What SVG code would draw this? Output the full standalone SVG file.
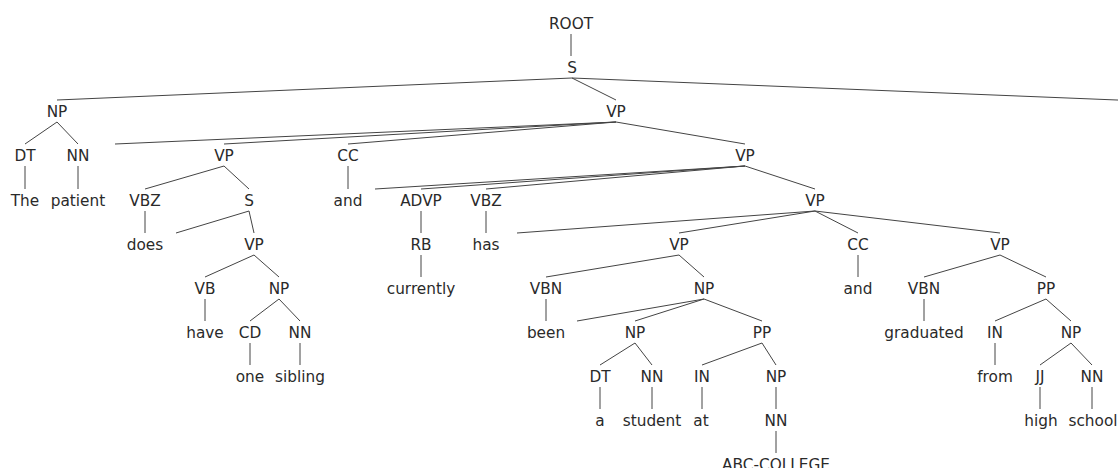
<svg xmlns="http://www.w3.org/2000/svg" width="1118" height="468" viewBox="0 0 1118 468">
  <style>
    text { font-family: "DejaVu Sans", "Liberation Sans", sans-serif; font-size: 15.3px; fill: #2a2a2a; text-anchor: middle; }
    .edges line { stroke: #444; stroke-width: 1; fill: none; }
  </style>
  <rect width="1118" height="468" fill="#fff"/>

  <!-- tree edges -->
  <g id="edges" class="edges">
    <line x1="571" y1="34" x2="571" y2="56"/>
    <line x1="572" y1="78" x2="57" y2="100"/>
    <line x1="572" y1="78" x2="616" y2="100"/>
    <line x1="572" y1="78" x2="1122" y2="100.2"/>
    <line x1="57" y1="122" x2="25" y2="144"/>
    <line x1="57" y1="122" x2="78" y2="144"/>
    <line x1="25" y1="166" x2="25" y2="189"/>
    <line x1="78" y1="166" x2="78" y2="189"/>
    <line x1="616" y1="122" x2="115" y2="144"/>
    <line x1="616" y1="122" x2="224" y2="144"/>
    <line x1="616" y1="122" x2="348" y2="144"/>
    <line x1="616" y1="122" x2="745" y2="144"/>
    <line x1="224" y1="166" x2="145" y2="189"/>
    <line x1="224" y1="166" x2="249" y2="189"/>
    <line x1="348" y1="166" x2="348" y2="189"/>
    <line x1="745" y1="166" x2="375" y2="189"/>
    <line x1="745" y1="166" x2="421" y2="189"/>
    <line x1="745" y1="166" x2="486" y2="189"/>
    <line x1="745" y1="166" x2="815" y2="189"/>
    <line x1="145" y1="211" x2="145" y2="233"/>
    <line x1="249" y1="211" x2="176" y2="233"/>
    <line x1="249" y1="211" x2="254" y2="233"/>
    <line x1="421" y1="211" x2="421" y2="233"/>
    <line x1="486" y1="211" x2="486" y2="233"/>
    <line x1="815" y1="211" x2="517" y2="233"/>
    <line x1="815" y1="211" x2="679" y2="233"/>
    <line x1="815" y1="211" x2="858" y2="233"/>
    <line x1="815" y1="211" x2="1000" y2="233"/>
    <line x1="254" y1="255" x2="205" y2="277"/>
    <line x1="254" y1="255" x2="279" y2="277"/>
    <line x1="421" y1="255" x2="421" y2="277"/>
    <line x1="679" y1="255" x2="546" y2="277"/>
    <line x1="679" y1="255" x2="704" y2="277"/>
    <line x1="858" y1="255" x2="858" y2="277"/>
    <line x1="1000" y1="255" x2="924" y2="277"/>
    <line x1="1000" y1="255" x2="1046" y2="277"/>
    <line x1="205" y1="299" x2="205" y2="321"/>
    <line x1="279" y1="299" x2="250" y2="321"/>
    <line x1="279" y1="299" x2="300" y2="321"/>
    <line x1="546" y1="299" x2="546" y2="321"/>
    <line x1="704" y1="299" x2="577" y2="321"/>
    <line x1="704" y1="299" x2="635" y2="321"/>
    <line x1="704" y1="299" x2="762" y2="321"/>
    <line x1="924" y1="299" x2="924" y2="321"/>
    <line x1="1046" y1="299" x2="995" y2="321"/>
    <line x1="1046" y1="299" x2="1071" y2="321"/>
    <line x1="250" y1="343" x2="250" y2="365"/>
    <line x1="300" y1="343" x2="300" y2="365"/>
    <line x1="635" y1="343" x2="600" y2="365"/>
    <line x1="635" y1="343" x2="652" y2="365"/>
    <line x1="762" y1="343" x2="702" y2="365"/>
    <line x1="762" y1="343" x2="776" y2="365"/>
    <line x1="995" y1="343" x2="995" y2="365"/>
    <line x1="1071" y1="343" x2="1040" y2="365"/>
    <line x1="1071" y1="343" x2="1092" y2="365"/>
    <line x1="600" y1="387" x2="600" y2="409"/>
    <line x1="652" y1="387" x2="652" y2="409"/>
    <line x1="702" y1="387" x2="702" y2="409"/>
    <line x1="776" y1="387" x2="776" y2="409"/>
    <line x1="1040" y1="387" x2="1040" y2="409"/>
    <line x1="1092" y1="387" x2="1092" y2="409"/>
    <line x1="776" y1="431" x2="776" y2="453"/>
  </g>

  <!-- nodes -->
  <g id="n-root"><text x="571" y="29">ROOT</text></g>
  <g id="n-s"><text x="572" y="73">S</text></g>
  <g id="n-np1"><text x="57" y="117">NP</text></g>
  <g id="n-vp1"><text x="616" y="117">VP</text></g>
  <g id="n-dt1"><text x="25" y="161">DT</text></g>
  <g id="n-nn1"><text x="78" y="161">NN</text></g>
  <g id="n-vp2"><text x="224" y="161">VP</text></g>
  <g id="n-cc1"><text x="348" y="161">CC</text></g>
  <g id="n-vp3"><text x="745" y="161">VP</text></g>
  <g id="w-the"><text x="25" y="206">The</text></g>
  <g id="w-patient"><text x="78" y="206">patient</text></g>
  <g id="n-vbz1"><text x="145" y="206">VBZ</text></g>
  <g id="n-s2"><text x="249" y="206">S</text></g>
  <g id="w-and1"><text x="348" y="206">and</text></g>
  <g id="n-advp"><text x="421" y="206">ADVP</text></g>
  <g id="n-vbz2"><text x="486" y="206">VBZ</text></g>
  <g id="n-vp4"><text x="815" y="206">VP</text></g>
  <g id="w-does"><text x="145" y="250">does</text></g>
  <g id="n-vp5"><text x="254" y="250">VP</text></g>
  <g id="n-rb"><text x="421" y="250">RB</text></g>
  <g id="w-has"><text x="486" y="250">has</text></g>
  <g id="n-vp6"><text x="679" y="250">VP</text></g>
  <g id="n-cc2"><text x="858" y="250">CC</text></g>
  <g id="n-vp7"><text x="1000" y="250">VP</text></g>
  <g id="n-vb"><text x="205" y="294">VB</text></g>
  <g id="n-np2"><text x="279" y="294">NP</text></g>
  <g id="w-currently"><text x="421" y="294">currently</text></g>
  <g id="n-vbn1"><text x="546" y="294">VBN</text></g>
  <g id="n-np3"><text x="704" y="294">NP</text></g>
  <g id="w-and2"><text x="858" y="294">and</text></g>
  <g id="n-vbn2"><text x="924" y="294">VBN</text></g>
  <g id="n-pp1"><text x="1046" y="294">PP</text></g>
  <g id="w-have"><text x="205" y="338">have</text></g>
  <g id="n-cd"><text x="250" y="338">CD</text></g>
  <g id="n-nn2"><text x="300" y="338">NN</text></g>
  <g id="w-been"><text x="546" y="338">been</text></g>
  <g id="n-np4"><text x="635" y="338">NP</text></g>
  <g id="n-pp2"><text x="762" y="338">PP</text></g>
  <g id="w-graduated"><text x="924" y="338">graduated</text></g>
  <g id="n-in1"><text x="995" y="338">IN</text></g>
  <g id="n-np5"><text x="1071" y="338">NP</text></g>
  <g id="w-one"><text x="250" y="382">one</text></g>
  <g id="w-sibling"><text x="300" y="382">sibling</text></g>
  <g id="n-dt2"><text x="600" y="382">DT</text></g>
  <g id="n-nn3"><text x="652" y="382">NN</text></g>
  <g id="n-in2"><text x="702" y="382">IN</text></g>
  <g id="n-np6"><text x="776" y="382">NP</text></g>
  <g id="w-from"><text x="995" y="382">from</text></g>
  <g id="n-jj"><text x="1040" y="382">JJ</text></g>
  <g id="n-nn4"><text x="1092" y="382">NN</text></g>
  <g id="w-a"><text x="600" y="426">a</text></g>
  <g id="w-student"><text x="652" y="426">student</text></g>
  <g id="w-at"><text x="701" y="426">at</text></g>
  <g id="n-nn5"><text x="776" y="426">NN</text></g>
  <g id="w-high"><text x="1041" y="426">high</text></g>
  <g id="w-school"><text x="1093" y="426">school</text></g>
  <g id="w-abc"><text x="776" y="470">ABC-COLLEGE</text></g>
</svg>
